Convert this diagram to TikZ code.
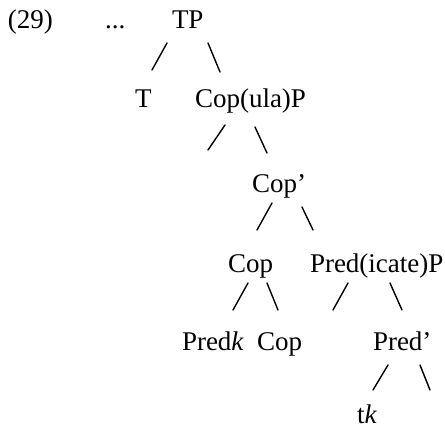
\documentclass[tikz,border=0pt]{standalone}
\usepackage{fontspec}
\setmainfont{Liberation Serif}
\begin{document}
\begin{tikzpicture}[x=1pt,y=-1pt,
  lbl/.style={anchor=base west,inner sep=0pt,outer sep=0pt,
    font=\fontsize{27}{31}\selectfont},
  branch/.style={line width=1.4pt,line cap=round}]
\useasboundingbox (0,0) rectangle (445,431);
% example number and leading dots
\node[lbl] (ex)   at (8,28)    {(29)};
\node[lbl] (dots) at (105,28)  {...};
% tree labels (left edge, baseline)
\node[lbl] (tp)    at (172,28)  {TP};
\node[lbl] (t)     at (135,107) {T};
\node[lbl] (copp)  at (195,107) {Cop(ula)P};
\node[lbl] (copb)  at (252,192) {Cop’};
\node[lbl] (cop)   at (228,272) {Cop};
\node[lbl] (predp) at (310,272) {Pred(icate)P};
\node[lbl] (predk) at (182,350) {Pred\textit{k}};
\node[lbl] (cop0)  at (257,350) {Cop};
\node[lbl] (predb) at (373,350) {Pred’};
\node[lbl] (tk)    at (357,423) {t\textit{k}};
% branch strokes
\coordinate (a1) at (167,43);  \coordinate (a2) at (152,70);
\coordinate (b1) at (208,43);  \coordinate (b2) at (220,72);
\coordinate (c1) at (225,125); \coordinate (c2) at (208,150);
\coordinate (d1) at (255,127); \coordinate (d2) at (267,153);
\coordinate (e1) at (272,203); \coordinate (e2) at (257,230);
\coordinate (f1) at (302,207); \coordinate (f2) at (313,230);
\coordinate (g1) at (248,283); \coordinate (g2) at (233,310);
\coordinate (h1) at (267,283); \coordinate (h2) at (278,310);
\coordinate (i1) at (348,283); \coordinate (i2) at (333,310);
\coordinate (j1) at (390,283); \coordinate (j2) at (402,310);
\coordinate (k1) at (388,365); \coordinate (k2) at (373,390);
\coordinate (l1) at (420,365); \coordinate (l2) at (430,390);
\foreach \p in {a,b,c,d,e,f,g,h,i,j,k,l}
  \draw[branch] (\p1) -- (\p2);
\end{tikzpicture}
\end{document}
